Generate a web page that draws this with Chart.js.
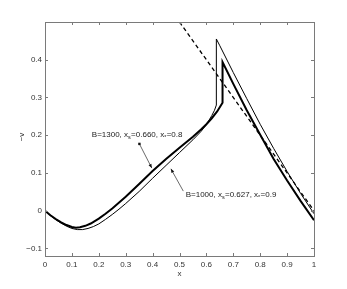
<!DOCTYPE html>
<html>
<head>
<meta charset="utf-8">
<script src="https://cdn.jsdelivr.net/npm/chart.js@4"></script>
<style>
html,body{margin:0;padding:0;background:#fff;}
#wrap{width:347px;height:289px;position:relative;}
</style>
</head>
<body>
<div id="wrap"><canvas id="c" width="347" height="289"></canvas></div>
<script>
// ---- data ----
const thinX = [0, 0.02, 0.04, 0.06, 0.08, 0.1, 0.12, 0.14, 0.16, 0.18, 0.2, 0.225, 0.25, 0.275, 0.3, 0.35, 0.4, 0.45, 0.5, 0.55, 0.58, 0.6, 0.62, 0.63, 0.637, 0.637, 0.65, 0.7, 0.75, 0.8, 0.85, 0.9, 0.95, 1.0];
const thinY = [0, -0.013, -0.024, -0.033, -0.041, -0.047, -0.050, -0.050, -0.047, -0.042, -0.035, -0.023, -0.010, 0.004, 0.019, 0.051, 0.086, 0.12, 0.154, 0.188, 0.21, 0.228, 0.252, 0.266, 0.28, 0.455, 0.437, 0.366, 0.297, 0.229, 0.165, 0.104, 0.046, -0.008];
const thickX = [0, 0.02, 0.04, 0.06, 0.08, 0.1, 0.115, 0.13, 0.15, 0.17, 0.2, 0.225, 0.25, 0.3, 0.35, 0.4, 0.45, 0.5, 0.55, 0.58, 0.6, 0.62, 0.64, 0.66, 0.66, 0.7, 0.75, 0.8, 0.85, 0.9, 0.95, 1.0];
const thickY = [0, -0.012, -0.022, -0.031, -0.038, -0.043, -0.045, -0.044, -0.040, -0.034, -0.021, -0.008, 0.006, 0.037, 0.071, 0.105, 0.137, 0.167, 0.196, 0.215, 0.229, 0.245, 0.263, 0.286, 0.394, 0.336, 0.266, 0.201, 0.137, 0.08, 0.026, -0.025];
const dashX = [0.5, 1.0];
const dashY = [0.5, 0.0];
const xTicks = [0, 0.1, 0.2, 0.3, 0.4, 0.5, 0.6, 0.7, 0.8, 0.9, 1];
const yTicks = [-0.1, 0, 0.1, 0.2, 0.3, 0.4];
const label1 = [["B=1300, x", false], ["s", true], ["=0.660, x", false], ["*", true], ["=0.8", false]];
const label2 = [["B=1000, x", false], ["s", true], ["=0.627, x", false], ["*", true], ["=0.9", false]];

const pts = (xs, ys) => xs.map((x, i) => ({x: x, y: ys[i]}));
const FONT = "'Liberation Sans', Arial, sans-serif";

const fmt = v => {
  if (Math.abs(v) < 1e-9) return '0';
  const s = (Math.round(v * 10) / 10).toString();
  return v < 0 ? '\u2212' + s.replace('-', '') : s;
};

const decor = {
  id: 'decor',
  afterDatasetsDraw(chart) {
    const ctx = chart.ctx, a = chart.chartArea;
    const xs = chart.scales.x, ys = chart.scales.y;
    ctx.save();
    // frame
    ctx.strokeStyle = '#7a7a7a';
    ctx.lineWidth = 1;
    ctx.strokeRect(Math.round(a.left) + 0.5, Math.round(a.top) + 0.5, Math.round(a.right - a.left), Math.round(a.bottom - a.top));
    // inward ticks
    const tl = 3;
    ctx.beginPath();
    xTicks.forEach(v => {
      const px = Math.round(xs.getPixelForValue(v)) + 0.5;
      ctx.moveTo(px, a.bottom); ctx.lineTo(px, a.bottom - tl);
      ctx.moveTo(px, a.top); ctx.lineTo(px, a.top + tl);
    });
    yTicks.forEach(v => {
      const py = Math.round(ys.getPixelForValue(v)) + 0.5;
      ctx.moveTo(a.left, py); ctx.lineTo(a.left + tl, py);
      ctx.moveTo(a.right, py); ctx.lineTo(a.right - tl, py);
    });
    ctx.stroke();

    // axis titles
    ctx.fillStyle = '#333';
    ctx.font = '8px ' + FONT;
    ctx.textAlign = 'center';
    ctx.textBaseline = 'middle';
    ctx.fillText('x', xs.getPixelForValue(0.5), 274);
    ctx.save();
    ctx.translate(22, 137);
    ctx.rotate(-Math.PI / 2);
    ctx.fillText('\u2212v', 0, 0);
    ctx.restore();

    // annotations
    const drawLabel = (segs, dx, dy) => {
      let x = xs.getPixelForValue(dx), y = ys.getPixelForValue(dy);
      ctx.textAlign = 'left';
      ctx.textBaseline = 'alphabetic';
      ctx.fillStyle = '#222';
      segs.forEach(([t, sub]) => {
        ctx.font = (sub ? '5.5px ' : '8px ') + FONT;
        ctx.fillText(t, x, sub ? y + 2.5 : y);
        x += ctx.measureText(t).width + (sub ? 0.3 : 0);
      });
    };
    const arrow = (x0, y0, x1, y1, dot) => {
      const p0 = [xs.getPixelForValue(x0), ys.getPixelForValue(y0)];
      const p1 = [xs.getPixelForValue(x1), ys.getPixelForValue(y1)];
      ctx.strokeStyle = '#444';
      ctx.fillStyle = '#111';
      ctx.lineWidth = 0.8;
      ctx.beginPath(); ctx.moveTo(p0[0], p0[1]); ctx.lineTo(p1[0], p1[1]); ctx.stroke();
      const ang = Math.atan2(p1[1] - p0[1], p1[0] - p0[0]);
      const L = 4, W = 1.6;
      ctx.beginPath();
      ctx.moveTo(p1[0], p1[1]);
      ctx.lineTo(p1[0] - L * Math.cos(ang) + W * Math.sin(ang), p1[1] - L * Math.sin(ang) - W * Math.cos(ang));
      ctx.lineTo(p1[0] - L * Math.cos(ang) - W * Math.sin(ang), p1[1] - L * Math.sin(ang) + W * Math.cos(ang));
      ctx.closePath(); ctx.fill();
      if (dot) ctx.fillRect(p0[0] - 1.2, p0[1] - 1.2, 2.4, 2.4);
    };
    drawLabel(label1, 0.174, 0.196);
    drawLabel(label2, 0.523, 0.037);
    arrow(0.351, 0.177, 0.397, 0.113, true);
    arrow(0.514, 0.052, 0.468, 0.111, false);
    ctx.restore();
  }
};

new Chart(document.getElementById('c'), {
  type: 'scatter',
  data: {
    datasets: [
      {data: pts(thinX, thinY), showLine: true, borderColor: '#000', borderWidth: 1, pointRadius: 0, tension: 0},
      {data: pts(thickX, thickY), showLine: true, borderColor: '#000', borderWidth: 2, pointRadius: 0, tension: 0},
      {data: pts(dashX, dashY), showLine: true, borderColor: '#000', borderWidth: 1.3, borderDash: [4, 3], pointRadius: 0}
    ]
  },
  options: {
    responsive: false,
    animation: false,
    devicePixelRatio: 1,
    layout: {padding: {left: 0, right: 33, top: 22, bottom: 0}},
    plugins: {legend: {display: false}, tooltip: {enabled: false}},
    scales: {
      x: {
        type: 'linear', min: 0, max: 1,
        afterFit: s => { s.height = 33; },
        afterBuildTicks: s => { s.ticks = xTicks.map(v => ({value: v})); },
        grid: {display: false, drawTicks: false},
        border: {display: false},
        ticks: {padding: 4, color: '#333', font: {family: FONT, size: 8}, callback: v => fmt(v), maxRotation: 0, autoSkip: false}
      },
      y: {
        type: 'linear', min: -0.12, max: 0.5,
        afterFit: s => { s.width = 45; },
        afterBuildTicks: s => { s.ticks = yTicks.map(v => ({value: v})); },
        grid: {display: false, drawTicks: false},
        border: {display: false},
        ticks: {padding: 3, color: '#333', font: {family: FONT, size: 8}, callback: v => fmt(v), autoSkip: false}
      }
    }
  },
  plugins: [decor]
});
</script>
</body>
</html>
